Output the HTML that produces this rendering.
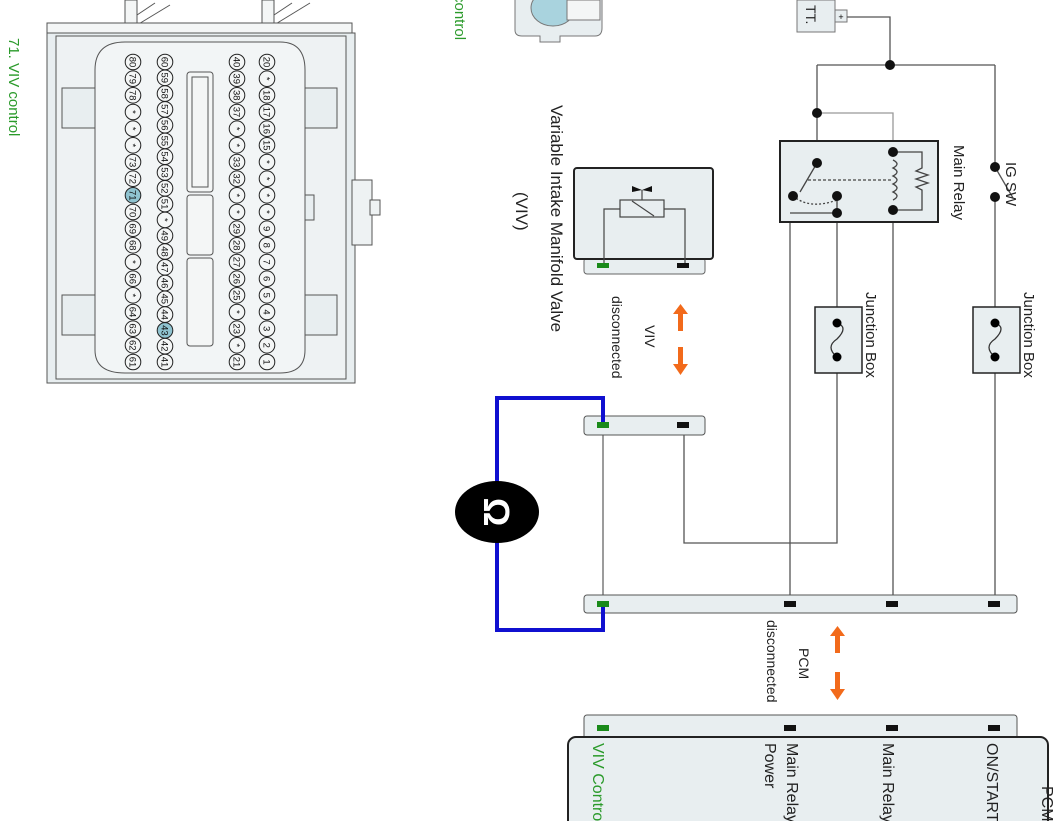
<!DOCTYPE html>
<html><head><meta charset="utf-8"><style>
html,body{margin:0;padding:0;background:#fff;}
svg{display:block;font-family:"Liberation Sans",sans-serif;}
</style></head><body>
<svg width="1062" height="821" viewBox="0 0 1062 821" xmlns="http://www.w3.org/2000/svg">
<defs>
<circle id="p" r="7.8" fill="#f4f6f6" stroke="#222" stroke-width="1"/>
<circle id="ph" r="7.8" fill="#8fc3d0" stroke="#222" stroke-width="1"/>
</defs>
<g stroke="#555" fill="#e8eef0" stroke-width="1">
<rect x="125" y="0" width="12" height="33" fill="#f4f6f6"/>
<rect x="262" y="0" width="12" height="33" fill="#f4f6f6"/>
<line x1="137" y1="25" x2="170" y2="5"/><line x1="137" y1="15" x2="155" y2="3"/>
<line x1="274" y1="25" x2="310" y2="3"/><line x1="274" y1="15" x2="292" y2="3"/>
<rect x="47" y="23" width="305" height="12" fill="#f4f6f6"/>
<rect x="47" y="33" width="308" height="350" fill="#e8eef0"/>
<rect x="56" y="36" width="290" height="343" fill="#eef2f3"/>
<rect x="352" y="180" width="20" height="65" fill="#eef2f3"/>
<rect x="370" y="200" width="10" height="15" fill="#eef2f3"/>
<rect x="62" y="88" width="35" height="40"/><rect x="62" y="295" width="35" height="40"/>
<rect x="305" y="88" width="32" height="40"/><rect x="305" y="295" width="32" height="40"/>
<rect x="300" y="195" width="14" height="25"/>
<path d="M95 70 Q95 42 125 42 L280 42 Q305 42 305 70 L305 350 Q305 373 280 373 L125 373 Q95 373 95 350 Z" fill="#f2f5f6"/>
<rect x="187" y="72" width="26" height="120" rx="3" fill="#f4f6f6"/>
<rect x="187" y="195" width="26" height="60" rx="3" fill="#f4f6f6"/>
<rect x="187" y="258" width="26" height="88" rx="3" fill="#f4f6f6"/>
<rect x="192" y="77" width="16" height="110" fill="none"/>
</g>
<g font-size="9.5" text-anchor="middle" fill="#111">
<g transform="translate(267,62) rotate(90)">
<use href="#p" x="0"/><use href="#p" x="16.7"/><use href="#p" x="33.3"/><use href="#p" x="50"/><use href="#p" x="66.7"/><use href="#p" x="83.3"/><use href="#p" x="100"/><use href="#p" x="116.7"/><use href="#p" x="133.3"/><use href="#p" x="150"/><use href="#p" x="166.7"/><use href="#p" x="183.3"/><use href="#p" x="200"/><use href="#p" x="216.7"/><use href="#p" x="233.3"/><use href="#p" x="250"/><use href="#p" x="266.7"/><use href="#p" x="283.3"/><use href="#p" x="300"/>
<text y="3.5"><tspan x="0">20</tspan><tspan x="16.7">*</tspan><tspan x="33.3">18</tspan><tspan x="50">17</tspan><tspan x="66.7">16</tspan><tspan x="83.3">15</tspan><tspan x="100">*</tspan><tspan x="116.7">*</tspan><tspan x="133.3">*</tspan><tspan x="150">*</tspan><tspan x="166.7">9</tspan><tspan x="183.3">8</tspan><tspan x="200">7</tspan><tspan x="216.7">6</tspan><tspan x="233.3">5</tspan><tspan x="250">4</tspan><tspan x="266.7">3</tspan><tspan x="283.3">2</tspan><tspan x="300">1</tspan></text>
</g>
<g transform="translate(237,62) rotate(90)">
<use href="#p" x="0"/><use href="#p" x="16.7"/><use href="#p" x="33.3"/><use href="#p" x="50"/><use href="#p" x="66.7"/><use href="#p" x="83.3"/><use href="#p" x="100"/><use href="#p" x="116.7"/><use href="#p" x="133.3"/><use href="#p" x="150"/><use href="#p" x="166.7"/><use href="#p" x="183.3"/><use href="#p" x="200"/><use href="#p" x="216.7"/><use href="#p" x="233.3"/><use href="#p" x="250"/><use href="#p" x="266.7"/><use href="#p" x="283.3"/><use href="#p" x="300"/>
<text y="3.5"><tspan x="0">40</tspan><tspan x="16.7">39</tspan><tspan x="33.3">38</tspan><tspan x="50">37</tspan><tspan x="66.7">*</tspan><tspan x="83.3">*</tspan><tspan x="100">33</tspan><tspan x="116.7">32</tspan><tspan x="133.3">*</tspan><tspan x="150">*</tspan><tspan x="166.7">29</tspan><tspan x="183.3">28</tspan><tspan x="200">27</tspan><tspan x="216.7">26</tspan><tspan x="233.3">25</tspan><tspan x="250">*</tspan><tspan x="266.7">23</tspan><tspan x="283.3">*</tspan><tspan x="300">21</tspan></text>
</g>
<g transform="translate(165,62) rotate(90)">
<use href="#p" x="0"/><use href="#p" x="15.8"/><use href="#p" x="31.6"/><use href="#p" x="47.4"/><use href="#p" x="63.2"/><use href="#p" x="78.9"/><use href="#p" x="94.7"/><use href="#p" x="110.5"/><use href="#p" x="126.3"/><use href="#p" x="142.1"/><use href="#p" x="157.9"/><use href="#p" x="173.7"/><use href="#p" x="189.5"/><use href="#p" x="205.3"/><use href="#p" x="221.1"/><use href="#p" x="236.8"/><use href="#p" x="252.6"/><use href="#ph" x="268.4"/><use href="#p" x="284.2"/><use href="#p" x="300"/>
<text y="3.5"><tspan x="0">60</tspan><tspan x="15.8">59</tspan><tspan x="31.6">58</tspan><tspan x="47.4">57</tspan><tspan x="63.2">56</tspan><tspan x="78.9">55</tspan><tspan x="94.7">54</tspan><tspan x="110.5">53</tspan><tspan x="126.3">52</tspan><tspan x="142.1">51</tspan><tspan x="157.9">*</tspan><tspan x="173.7">49</tspan><tspan x="189.5">48</tspan><tspan x="205.3">47</tspan><tspan x="221.1">46</tspan><tspan x="236.8">45</tspan><tspan x="252.6">44</tspan><tspan x="268.4">43</tspan><tspan x="284.2">42</tspan><tspan x="300">41</tspan></text>
</g>
<g transform="translate(133,62) rotate(90)">
<use href="#p" x="0"/><use href="#p" x="16.7"/><use href="#p" x="33.3"/><use href="#p" x="50"/><use href="#p" x="66.7"/><use href="#p" x="83.3"/><use href="#p" x="100"/><use href="#p" x="116.7"/><use href="#ph" x="133.3"/><use href="#p" x="150"/><use href="#p" x="166.7"/><use href="#p" x="183.3"/><use href="#p" x="200"/><use href="#p" x="216.7"/><use href="#p" x="233.3"/><use href="#p" x="250"/><use href="#p" x="266.7"/><use href="#p" x="283.3"/><use href="#p" x="300"/>
<text y="3.5"><tspan x="0">80</tspan><tspan x="16.7">79</tspan><tspan x="33.3">78</tspan><tspan x="50">*</tspan><tspan x="66.7">*</tspan><tspan x="83.3">*</tspan><tspan x="100">73</tspan><tspan x="116.7">72</tspan><tspan x="133.3">71</tspan><tspan x="150">70</tspan><tspan x="166.7">69</tspan><tspan x="183.3">68</tspan><tspan x="200">*</tspan><tspan x="216.7">66</tspan><tspan x="233.3">*</tspan><tspan x="250">64</tspan><tspan x="266.7">63</tspan><tspan x="283.3">62</tspan><tspan x="300">61</tspan></text>
</g>
</g>
<text transform="translate(9,38) rotate(90)" font-size="15" fill="#2a9a2a">71. VIV control</text>
<text transform="translate(455,-5) rotate(90)" font-size="15" fill="#2a9a2a">control</text>
<g stroke="#777" fill="#e8eef0" stroke-width="1">
<path d="M515 0 L515 30 Q515 36 522 36 L540 36 L540 42 L560 42 L560 36 L595 36 Q602 36 602 28 L602 0"/>
<ellipse cx="553" cy="8" rx="22" ry="18" fill="#a9d3de"/>
<rect x="567" y="0" width="33" height="20" fill="#f4f6f6"/>
</g>
<rect x="797" y="0" width="38" height="32" fill="#e8eef0" stroke="#777"/>
<text transform="translate(806,5) rotate(90)" font-size="14" fill="#222">TT.</text>
<rect x="835" y="10" width="12" height="12" fill="#e8eef0" stroke="#777"/>
<text x="841" y="20" font-size="9" text-anchor="middle">+</text>
<g stroke="#555" stroke-width="1.3" fill="none">
<polyline points="847,17 890,17 890,65"/>
<line x1="817" y1="65" x2="995" y2="65"/>
<line x1="817" y1="65" x2="817" y2="163"/>
<polyline points="817,113 893,113 893,152" stroke="#999"/>
<line x1="995" y1="65" x2="995" y2="167"/>
<line x1="995" y1="167" x2="1013" y2="198"/>
<line x1="995" y1="197" x2="995" y2="604"/>
<polyline points="837,213 790,213 790,604"/>
<polyline points="837,196 837,543 684,543 684,425"/>
<line x1="893" y1="210" x2="893" y2="604"/>
<line x1="603" y1="425" x2="603" y2="604" stroke="#666"/>
</g>
<rect x="780" y="141" width="158" height="81" fill="#e8eef0" stroke="#222" stroke-width="2"/>
<g stroke="#444" stroke-width="1.3" fill="none">
<line x1="817" y1="163" x2="800" y2="192"/>
<line x1="808" y1="180" x2="893" y2="180" stroke-dasharray="3,2"/>
<path d="M793 196 Q810 210 837 200" stroke-dasharray="2,2"/>
<path d="M893 160 q8 4 0 8 q8 4 0 8 q8 4 0 8 q8 4 0 8 q8 4 0 8"/>
<polyline points="893,152 922,152 922,168 916,171 928,175 916,179 928,183 916,187 922,190 922,210 893,210"/>
<polyline points="790,213 837,213"/>
<line x1="837" y1="196" x2="837" y2="213"/>
</g>
<g fill="#111">
<circle cx="890" cy="65" r="5"/><circle cx="817" cy="113" r="5"/><circle cx="817" cy="163" r="5"/>
<circle cx="793" cy="196" r="5"/><circle cx="837" cy="196" r="5"/><circle cx="837" cy="213" r="5"/>
<circle cx="893" cy="152" r="5"/><circle cx="893" cy="210" r="5"/>
<circle cx="995" cy="167" r="5"/><circle cx="995" cy="197" r="5"/>
</g>
<text transform="translate(954,145) rotate(90)" font-size="15" fill="#222">Main Relay</text>
<text transform="translate(1006,162) rotate(90)" font-size="15" fill="#222">IG SW</text>
<g>
<rect x="815" y="307" width="47" height="66" fill="#e8eef0" stroke="#222" stroke-width="1.5"/>
<rect x="973" y="307" width="47" height="66" fill="#e8eef0" stroke="#222" stroke-width="1.5"/>
<path d="M837 323 q12 4 0 16 q-12 8 0 18" fill="none" stroke="#333" stroke-width="1.3"/>
<path d="M995 323 q12 4 0 16 q-12 8 0 18" fill="none" stroke="#333" stroke-width="1.3"/>
<circle cx="837" cy="323" r="4.5"/><circle cx="837" cy="357" r="4.5"/>
<circle cx="995" cy="323" r="4.5"/><circle cx="995" cy="357" r="4.5"/>
</g>
<text transform="translate(866,292) rotate(90)" font-size="15" fill="#222">Junction Box</text>
<text transform="translate(1024,292) rotate(90)" font-size="15" fill="#222">Junction Box</text>
<rect x="584" y="258" width="121" height="16" rx="3" fill="#e8eef0" stroke="#666"/>
<rect x="574" y="168" width="139" height="91" rx="3" fill="#e8eef0" stroke="#222" stroke-width="2"/>
<g stroke="#444" stroke-width="1.2" fill="none">
<rect x="620" y="200" width="44" height="17" fill="#e8eef0"/>
<line x1="632" y1="201" x2="654" y2="216"/>
<polyline points="620,209 604,209 604,264"/><polyline points="664,209 685,209 685,264"/>
<line x1="642" y1="200" x2="642" y2="190"/>
</g>
<path d="M632 186 L642 190 L652 186 L652 192 L642 190 L632 192 Z" fill="#111"/>
<rect x="597" y="263" width="12" height="5" fill="#1a8a1a"/><rect x="677" y="263" width="12" height="5" fill="#111"/>
<text transform="translate(551,105) rotate(90)" font-size="17" fill="#222">Variable Intake Manifold Valve</text>
<text transform="translate(516,192) rotate(90)" font-size="17" fill="#222">(VIV)</text>
<g fill="#f26a1b">
<rect x="678" y="313" width="5" height="18"/><path d="M673 314 L680.5 304 L688 314 Z"/>
<rect x="678" y="347" width="5" height="18"/><path d="M673 364 L680.5 375 L688 364 Z"/>
<rect x="835" y="635" width="5" height="18"/><path d="M830 636 L837.5 626 L845 636 Z"/>
<rect x="835" y="672" width="5" height="18"/><path d="M830 689 L837.5 700 L845 689 Z"/>
</g>
<text transform="translate(645,325) rotate(90)" font-size="14" fill="#222">VIV</text>
<text transform="translate(612,296) rotate(90)" font-size="14" fill="#222">disconnected</text>
<text transform="translate(799,648) rotate(90)" font-size="14" fill="#222">PCM</text>
<text transform="translate(767,620) rotate(90)" font-size="14" fill="#222">disconnected</text>
<rect x="584" y="416" width="121" height="19" rx="3" fill="#e8eef0" stroke="#555"/>
<rect x="584" y="595" width="433" height="18" rx="3" fill="#e8eef0" stroke="#555"/>
<rect x="677" y="422" width="12" height="6" fill="#111"/>
<rect x="784" y="601" width="12" height="6" fill="#111"/>
<rect x="886" y="601" width="12" height="6" fill="#111"/>
<rect x="988" y="601" width="12" height="6" fill="#111"/>
<polyline points="603,425 603,398 497,398 497,630 603,630 603,604" fill="none" stroke="#1010d0" stroke-width="4"/>
<rect x="597" y="422" width="12" height="6" fill="#1a8a1a"/>
<rect x="597" y="601" width="12" height="6" fill="#1a8a1a"/>
<ellipse cx="497" cy="512" rx="42" ry="31" fill="#000"/>
<text transform="translate(484,512) rotate(90)" font-size="36" font-weight="bold" fill="#fff" text-anchor="middle">Ω</text>
<rect x="584" y="715" width="433" height="25" rx="3" fill="#e8eef0" stroke="#555"/>
<rect x="568" y="737" width="480" height="100" rx="8" fill="#e8eef0" stroke="#222" stroke-width="2"/>
<rect x="597" y="725" width="12" height="6" fill="#1a8a1a"/>
<rect x="784" y="725" width="12" height="6" fill="#111"/>
<rect x="886" y="725" width="12" height="6" fill="#111"/>
<rect x="988" y="725" width="12" height="6" fill="#111"/>
<text transform="translate(593,743) rotate(90)" font-size="16" fill="#2a9a2a">VIV Control</text>
<text transform="translate(787,743) rotate(90)" font-size="16" fill="#222">Main Relay</text>
<text transform="translate(765,743) rotate(90)" font-size="16" fill="#222">Power</text>
<text transform="translate(883,743) rotate(90)" font-size="16" fill="#222">Main Relay</text>
<text transform="translate(987,743) rotate(90)" font-size="16" fill="#222">ON/START</text>
<text transform="translate(1042,786) rotate(90)" font-size="16" fill="#222">PCM</text>
</svg>
</body></html>
